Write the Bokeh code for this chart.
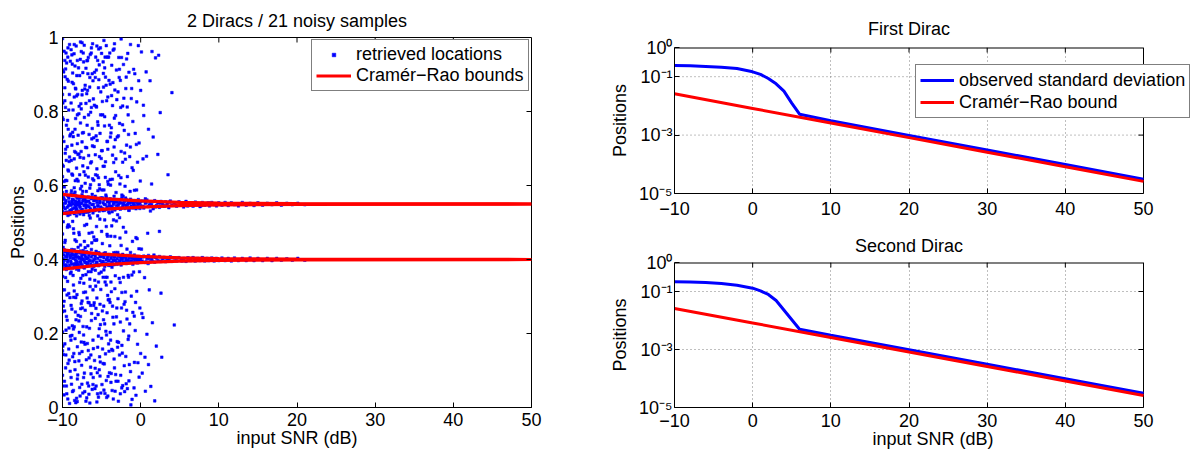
from bokeh.plotting import figure
from bokeh.models import Range1d, FixedTicker, Legend, LegendItem
from bokeh.layouts import row, column
from bokeh.embed import file_html
from bokeh.resources import INLINE

FONT = "Liberation Sans"
BLUE = "#0000FF"
RED = "#FF0000"

# ---------------- tick labels ----------------
snr_ticks = [-10, 0, 10, 20, 30, 40, 50]
snr_tick_labels = ["−10", "0", "10", "20", "30", "40", "50"]
pos_ticks = [0, 0.2, 0.4, 0.6, 0.8, 1]
pos_tick_labels = ["0", "0.2", "0.4", "0.6", "0.8", "1"]
log_ticks = [1e-5, 1e-3, 1e-1, 1]
log_tick_labels = ["10⁻⁵", "10⁻³", "10⁻¹", "10⁰"]

# ---------------- left panel: retrieved locations (SNR dB, position) ----------------
noise_band_m10 = [(-10,.912),(-10,.731),(-10,.655),(-10,.318),(-10,.204),(-10,.087),(-10,.469),(-10,.846),
    (-10,.581),(-10,.259),(-10,.997),(-10,.392),(-9.9,.143),(-9.9,.778),(-9.9,.502),(-9.8,.963),(-9.8,.611),
    (-9.8,.287),(-9.8,.034),(-9.7,.829),(-9.7,.446),(-9.7,.172),(-9.6,.698),(-9.6,.351),(-9.6,.915),(-9.5,.058),
    (-9.5,.524),(-9.5,.763),(-9.4,.236),(-9.4,.887),(-9.4,.417),(-9.3,.642),(-9.3,.119),(-9.3,.972),(-9.2,.308),
    (-9.2,.571),(-9.2,.804),(-9.1,.011),(-9.1,.489),(-9.1,.677),(-9.0,.193),(-9.0,.936),(-9.0,.362),(-9.6,.614),
    (-9.4,.705),(-9.2,.158),(-9.9,.274),(-9.7,.938),(-9.5,.382),(-9.3,.491),
    (-9.95,.823),(-9.95,.166),(-9.85,.542),(-9.85,.907),(-9.75,.318),(-9.75,.071),(-9.65,.687),(-9.65,.452),
    (-9.55,.209),(-9.55,.958),(-9.45,.613),(-9.45,.037),(-9.35,.776),(-9.35,.341),(-9.25,.494),(-9.25,.882),
    (-9.15,.128),(-9.15,.665),(-9.05,.297),(-9.05,.734),(-10,.624),(-10,.153),(-10,.783),(-9.9,.401),(-9.7,.864),
    (-9.5,.246),(-9.3,.572),(-9.1,.981),(-9.9,.652),(-9.6,.107),
    (-9.92,.433),(-9.87,.058),(-9.82,.719),(-9.77,.596),(-9.72,.261),(-9.67,.894),(-9.62,.377),(-9.57,.142),
    (-9.52,.668),(-9.47,.931),(-9.42,.304),(-9.37,.487),(-9.32,.023),(-9.27,.752),(-9.22,.639),(-9.17,.215),
    (-9.12,.846),(-9.07,.531),(-9.02,.098),(-9.97,.354),(-9.62,.811),(-9.32,.947)]
noise_band_m9 = [(-8.9,.547),(-8.9,.081),(-8.9,.823),(-8.8,.266),(-8.8,.709),(-8.8,.953),(-8.7,.412),(-8.7,.137),
    (-8.7,.628),(-8.6,.875),(-8.6,.331),(-8.6,.046),(-8.5,.594),(-8.5,.218),(-8.5,.981),(-8.4,.453),(-8.4,.752),
    (-8.4,.102),(-8.3,.689),(-8.3,.297),(-8.3,.861),(-8.2,.025),(-8.2,.518),(-8.2,.374),(-8.1,.791),(-8.1,.164),
    (-8.1,.938),(-8.0,.433),(-8.0,.612),(-8.0,.249),(-8.9,.366),(-8.7,.904),(-8.5,.672),(-8.3,.551),(-8.1,.077),
    (-8.6,.483),(-8.4,.923),(-8.2,.842),(-8.8,.195),(-8.0,.736),(-8.5,.315),(-8.3,.013),(-8.7,.744),(-8.1,.386),
    (-8.9,.967),(-8.6,.212),(-8.2,.647),(-8.4,.582),
    (-8.95,.412),(-8.95,.739),(-8.85,.063),(-8.85,.586),(-8.75,.928),(-8.75,.221),(-8.65,.357),(-8.65,.804),
    (-8.55,.146),(-8.55,.471),(-8.45,.692),(-8.45,.019),(-8.35,.863),(-8.35,.258),(-8.25,.534),(-8.25,.977),
    (-8.15,.305),(-8.15,.617),(-8.05,.088),(-8.05,.846),(-8.9,.276),(-8.7,.503),(-8.5,.839),(-8.3,.407),
    (-8.1,.713),(-8.8,.631),(-8.4,.186),
    (-8.92,.182),(-8.87,.668),(-8.82,.427),(-8.77,.879),(-8.72,.043),(-8.67,.561),(-8.62,.732),(-8.57,.298),
    (-8.52,.956),(-8.47,.387),(-8.42,.124),(-8.37,.613),(-8.32,.781),(-8.27,.237),(-8.22,.449),(-8.17,.897),
    (-8.12,.016),(-8.07,.528),(-8.02,.684)]
noise_band_m8 = [(-7.9,.126),(-7.9,.685),(-7.9,.473),(-7.8,.897),(-7.8,.338),(-7.8,.054),(-7.7,.769),(-7.7,.246),
    (-7.7,.591),(-7.6,.962),(-7.6,.402),(-7.6,.177),(-7.5,.718),(-7.5,.288),(-7.5,.845),(-7.4,.039),(-7.4,.527),
    (-7.4,.653),(-7.3,.311),(-7.3,.934),(-7.3,.196),(-7.2,.784),(-7.2,.449),(-7.2,.093),(-7.1,.606),(-7.1,.871),
    (-7.1,.263),(-7.0,.359),(-7.0,.017),(-7.0,.822),(-7.8,.629),(-7.6,.281),(-7.4,.905),(-7.2,.377),(-7.0,.548),
    (-7.7,.988),(-7.5,.151),(-7.3,.674),(-7.1,.432),(-7.9,.234),(-7.6,.807),(-7.4,.357),(-7.2,.561),(-7.0,.917),
    (-7.95,.552),(-7.95,.918),(-7.85,.203),(-7.85,.467),(-7.75,.031),(-7.75,.676),(-7.65,.821),(-7.65,.349),
    (-7.55,.598),(-7.55,.114),(-7.45,.742),(-7.45,.269),(-7.35,.958),(-7.35,.424),(-7.25,.176),(-7.25,.637),
    (-7.15,.861),(-7.15,.043),(-7.05,.312),(-7.05,.703),(-7.9,.794),(-7.7,.439),(-7.5,.986),(-7.3,.081),(-7.1,.528),
    (-7.92,.371),(-7.87,.814),(-7.82,.146),(-7.77,.523),(-7.72,.941),(-7.67,.267),(-7.62,.692),(-7.57,.418),
    (-7.52,.063),(-7.47,.857),(-7.42,.584),(-7.37,.219),(-7.32,.743),(-7.27,.336),(-7.22,.979),(-7.17,.492),
    (-7.12,.171),(-7.07,.628)]
noise_band_m7 = [(-6.9,.702),(-6.9,.218),(-6.9,.495),(-6.8,.066),(-6.8,.857),(-6.8,.391),(-6.7,.623),(-6.7,.154),
    (-6.7,.946),(-6.6,.283),(-6.6,.738),(-6.6,.529),(-6.5,.012),(-6.5,.892),(-6.5,.347),(-6.4,.661),(-6.4,.109),
    (-6.4,.798),(-6.3,.427),(-6.3,.972),(-6.3,.235),(-6.2,.576),(-6.2,.049),(-6.2,.754),(-6.1,.318),(-6.1,.883),
    (-6.1,.182),(-6.0,.614),(-6.0,.461),(-6.0,.276),(-6.9,.848),(-6.7,.367),(-6.5,.593),(-6.3,.811),(-6.1,.062),
    (-6.8,.938),(-6.6,.134),(-6.4,.276),(-6.2,.902),(-6.0,.729),
    (-6.95,.129),(-6.95,.584),(-6.85,.763),(-6.85,.296),(-6.75,.437),(-6.75,.902),(-6.65,.058),(-6.65,.681),
    (-6.55,.829),(-6.55,.214),(-6.45,.512),(-6.45,.954),(-6.35,.367),(-6.35,.091),(-6.25,.726),(-6.25,.445),
    (-6.15,.618),(-6.15,.983),(-6.05,.159),(-6.05,.834),(-6.9,.026),(-6.6,.471),(-6.3,.664),(-6.0,.381),
    (-6.92,.402),(-6.87,.937),(-6.82,.173),(-6.77,.648),(-6.72,.284),(-6.67,.791),(-6.62,.036),(-6.57,.519),
    (-6.52,.866),(-6.47,.327),(-6.42,.602),(-6.37,.142),(-6.32,.958),(-6.27,.254),(-6.22,.473),(-6.17,.707),
    (-6.12,.395),(-6.07,.081)]
noise_band_m6 = [(-5.9,.538),(-5.9,.127),(-5.9,.906),(-5.8,.371),(-5.8,.683),(-5.8,.241),(-5.7,.814),(-5.7,.058),
    (-5.7,.452),(-5.6,.977),(-5.6,.296),(-5.6,.645),(-5.5,.163),(-5.5,.772),(-5.5,.518),(-5.4,.028),(-5.4,.864),
    (-5.4,.339),(-5.3,.602),(-5.3,.213),(-5.3,.926),(-5.2,.408),(-5.2,.741),(-5.2,.085),(-5.1,.566),(-5.1,.319),
    (-5.1,.853),(-5.0,.187),(-5.0,.694),(-5.0,.476),(-5.8,.892),(-5.6,.015),(-5.4,.621),(-5.2,.279),(-5.0,.957),
    (-5.7,.734),(-5.3,.102),
    (-5.95,.705),(-5.95,.283),(-5.85,.051),(-5.85,.561),(-5.75,.947),(-5.75,.328),(-5.65,.489),(-5.65,.812),
    (-5.55,.094),(-5.55,.627),(-5.45,.251),(-5.45,.763),(-5.35,.418),(-5.35,.886),(-5.25,.137),(-5.25,.591),
    (-5.15,.972),(-5.15,.224),(-5.05,.673),(-5.05,.366),(-5.9,.452),(-5.5,.938),(-5.1,.039),
    (-5.92,.817),(-5.87,.344),(-5.82,.106),(-5.77,.629),(-5.72,.268),(-5.67,.912),(-5.62,.453),(-5.57,.722),
    (-5.52,.037),(-5.47,.586),(-5.42,.193),(-5.37,.969),(-5.32,.362),(-5.27,.678),(-5.22,.509),(-5.17,.123),
    (-5.12,.791)]
noise_band_m5 = [(-4.9,.261),(-4.9,.827),(-4.9,.443),(-4.8,.119),(-4.8,.652),(-4.8,.934),(-4.7,.372),(-4.7,.588),
    (-4.7,.047),(-4.6,.786),(-4.6,.226),(-4.6,.507),(-4.5,.893),(-4.5,.145),(-4.5,.664),(-4.4,.331),(-4.4,.978),
    (-4.4,.073),(-4.3,.719),(-4.3,.468),(-4.3,.256),(-4.2,.839),(-4.2,.031),(-4.2,.611),(-4.1,.384),(-4.1,.947),
    (-4.1,.172),(-4.0,.526),(-4.0,.763),(-4.0,.292),(-4.8,.352),(-4.6,.918),(-4.4,.489),(-4.2,.698),(-4.0,.094),
    (-4.95,.588),(-4.95,.062),(-4.85,.791),(-4.85,.414),(-4.75,.237),(-4.75,.866),(-4.65,.652),(-4.65,.118),
    (-4.55,.339),(-4.55,.947),(-4.45,.574),(-4.45,.206),(-4.35,.829),(-4.35,.027),(-4.25,.463),(-4.25,.719),
    (-4.15,.291),(-4.15,.603),(-4.05,.884),(-4.05,.152),(-4.7,.992),(-4.3,.352),
    (-4.92,.694),(-4.87,.158),(-4.82,.532),(-4.77,.903),(-4.72,.274),(-4.67,.417),(-4.62,.761),(-4.57,.038),
    (-4.52,.622),(-4.47,.352),(-4.42,.871),(-4.37,.196),(-4.32,.563),(-4.27,.947),(-4.22,.303),(-4.17,.084)]
noise_band_m4 = [(-3.9,.616),(-3.9,.203),(-3.9,.874),(-3.8,.339),(-3.8,.742),(-3.8,.068),(-3.7,.491),(-3.7,.925),
    (-3.7,.157),(-3.6,.682),(-3.6,.274),(-3.6,.816),(-3.5,.023),(-3.5,.559),(-3.5,.397),(-3.4,.969),(-3.4,.131),
    (-3.4,.704),(-3.3,.321),(-3.3,.858),(-3.3,.462),(-3.2,.089),(-3.2,.637),(-3.2,.789),(-3.1,.245),(-3.1,.912),
    (-3.1,.504),(-3.0,.178),(-3.0,.731),(-3.0,.416),
    (-3.95,.437),(-3.95,.958),(-3.85,.182),(-3.85,.601),(-3.75,.756),(-3.75,.313),(-3.65,.046),(-3.65,.529),
    (-3.55,.878),(-3.55,.244),(-3.45,.418),(-3.45,.662),(-3.35,.107),(-3.35,.983),(-3.25,.356),(-3.25,.724),
    (-3.15,.581),(-3.15,.071),(-3.05,.832),(-3.05,.269),
    (-3.92,.284),(-3.87,.731),(-3.82,.463),(-3.77,.092),(-3.72,.843),(-3.67,.379),(-3.62,.617),(-3.57,.154),
    (-3.52,.966),(-3.47,.507),(-3.42,.226),(-3.37,.782),(-3.27,.044),(-3.17,.672)]
noise_band_m3 = [(-2.9,.853),(-2.9,.294),(-2.9,.071),(-2.8,.627),(-2.8,.389),(-2.8,.946),(-2.7,.142),(-2.7,.768),
    (-2.7,.513),(-2.6,.231),(-2.6,.884),(-2.6,.037),(-2.5,.692),(-2.5,.438),(-2.5,.996),(-2.4,.168),(-2.4,.574),
    (-2.4,.311),(-2.3,.815),(-2.3,.059),(-2.3,.663),(-2.2,.352),(-2.2,.927),(-2.2,.207),(-2.1,.749),(-2.1,.113),
    (-2.0,.286),(-2.0,.598),
    (-2.95,.521),(-2.95,.163),(-2.85,.734),(-2.85,.017),(-2.75,.349),(-2.75,.892),(-2.65,.604),(-2.65,.458),
    (-2.55,.087),(-2.55,.811),(-2.45,.269),(-2.45,.946),(-2.35,.402),(-2.35,.147),(-2.25,.571),(-2.15,.836),
    (-2.05,.043),(-2.05,.688),
    (-2.92,.419),(-2.82,.176),(-2.72,.914),(-2.62,.338),(-2.52,.621),(-2.42,.053),(-2.32,.764),(-2.22,.487),
    (-2.12,.279)]
noise_band_m2 = [(-1.9,.474),(-1.9,.862),(-1.9,.138),(-1.8,.709),(-1.8,.263),(-1.8,.942),(-1.7,.051),(-1.7,.624),
    (-1.6,.357),(-1.6,.791),(-1.6,.184),(-1.5,.533),(-1.5,.906),(-1.4,.226),(-1.4,.678),(-1.3,.097),(-1.3,.419),
    (-1.2,.835),(-1.2,.301),(-1.1,.648),(-1.1,.022),(-1.0,.257),(-1.0,.773),(-1.5,.072),(-1.3,.981),
    (-1.95,.312),(-1.95,.671),(-1.85,.064),(-1.85,.893),(-1.75,.428),(-1.75,.239),(-1.65,.957),(-1.55,.352),
    (-1.55,.738),(-1.45,.116),(-1.35,.584),(-1.25,.007),(-1.15,.862),(-1.05,.449),
    (-1.92,.566),(-1.72,.812),(-1.52,.193),(-1.32,.704),(-1.12,.358)]
noise_band_m1 = [(-0.9,.366),(-0.9,.914),(-0.8,.122),(-0.8,.587),(-0.7,.741),(-0.7,.208),(-0.6,.459),(-0.6,.033),
    (-0.5,.826),(-0.5,.314),(-0.4,.663),(-0.4,.171),(-0.3,.978),(-0.3,.402),(-0.2,.082),(-0.2,.715),(-0.1,.269),
    (-0.1,.538),(0.0,.857),(0.0,.146),
    (-0.95,.641),(-0.85,.053),(-0.75,.902),(-0.65,.284),(-0.55,.711),(-0.45,.456),(-0.35,.121),(-0.25,.883),
    (-0.15,.367),(-0.05,.612),(-0.82,.247),(-0.52,.588),(-0.22,.429)]
noise_band_0 = [(0.1,.428),(0.1,.961),(0.2,.093),(0.3,.672),(0.3,.243),(0.4,.789),(0.5,.351),(0.6,.044),
    (0.6,.564),(0.7,.907),(0.8,.198),(0.9,.471),(1.0,.752),(1.0,.116),
    (0.15,.254),(0.35,.817),(0.55,.136),(0.75,.679),(0.95,.389),(1.25,.531),(1.45,.962)]
noise_band_1 = [(1.1,.318),(1.2,.883),(1.3,.057),(1.4,.604),(1.5,.229),(1.6,.731),(1.7,.412),(1.9,.945),
    (2.0,.166),(1.8,.018)]
noise_band_2 = [(2.3,.952),(2.5,.797),(2.6,.309),(2.7,.136),(3.5,.629),(4.0,.851),(4.3,.223),(2.2,.684),(2.4,.476)]

cluster_first = [(-10,.548),(-10,.571),(-10,.531),(-9.8,.562),(-9.7,.526),(-9.6,.553),(-9.5,.584),(-9.4,.541),
    (-9.3,.519),(-9.2,.566),(-9.1,.549),(-9.0,.533),(-8.9,.578),(-8.8,.556),(-8.7,.538),(-8.6,.561),(-8.5,.524),
    (-8.4,.547),(-8.3,.572),(-8.2,.536),(-8.1,.555),(-8.0,.529),(-7.9,.567),(-7.8,.544),(-7.7,.551),(-7.6,.532),
    (-7.5,.575),(-7.4,.558),(-7.3,.521),(-7.2,.546),(-7.1,.563),(-7.0,.539),(-6.9,.557),(-6.8,.528),(-6.7,.569),
    (-6.6,.543),(-6.5,.552),(-6.4,.534),(-6.3,.564),(-6.2,.548),(-6.1,.526),(-6.0,.559),(-5.9,.541),(-5.8,.571),
    (-5.7,.535),(-5.6,.554),(-5.5,.546),(-5.4,.563),(-5.3,.531),(-5.2,.557),(-5.1,.542),(-5.0,.566),
    (-4.9,.538),(-4.8,.553),(-4.7,.561),(-4.6,.533),(-4.5,.548),(-4.4,.569),(-4.3,.541),(-4.2,.556),(-4.1,.529),
    (-4.0,.552),(-3.9,.564),(-3.8,.544),(-3.7,.537),(-3.6,.558),(-3.5,.549),(-3.4,.571),(-3.3,.534),(-3.2,.555),
    (-3.1,.546),(-3.0,.562),(-2.9,.539),(-2.8,.551),(-2.7,.558),(-2.6,.536),(-2.5,.553),(-2.4,.566),(-2.3,.543),
    (-2.2,.549),(-2.1,.559),(-2.0,.538),(-1.9,.547),(-1.8,.561),(-1.7,.541),(-1.6,.555),(-1.5,.533),(-1.4,.552),
    (-1.3,.563),(-1.2,.544),(-1.1,.557),(-1.0,.539),(-0.9,.551),(-0.8,.546),(-0.7,.559),(-0.6,.537),(-0.5,.554),
    (-0.4,.548),(-0.3,.562),(-0.2,.541),(-0.1,.553),(0.0,.545),
    (0.2,.558),(0.4,.539),(0.6,.552),(0.8,.561),(1.0,.543),(1.2,.555),(1.4,.548),(1.6,.537),(1.8,.559),(2.0,.546),
    (2.2,.553),(2.4,.541),(2.6,.557),(2.8,.549),(3.0,.544),(3.2,.556),(3.4,.551),(3.6,.540),(3.8,.558),(4.0,.547),
    (4.3,.553),(4.6,.544),(4.9,.556),(5.2,.549),(5.5,.542),(5.8,.557),(6.1,.546),(6.4,.553),(6.7,.544),(7.0,.555),
    (7.3,.548),(7.6,.543),(7.9,.554),(8.2,.547),(8.5,.552),(8.8,.545),(9.1,.554),(9.4,.548),(9.7,.545),(10.0,.553),
    (10.4,.547),(10.8,.554),(11.2,.546),(11.6,.553),(12.0,.548),(12.5,.545),(13.0,.554),(13.5,.547),(14.0,.552),
    (14.5,.546),(15.0,.553),(15.6,.547),(16.2,.552),(16.8,.548),(17.4,.553),(18.0,.547),(18.7,.552),(19.4,.548),
    (20.1,.552),(21.0,.548),
    (-9.95,.541),(-9.85,.567),(-9.75,.552),(-9.65,.537),(-9.55,.559),(-9.45,.528),(-9.35,.573),(-9.25,.545),
    (-9.15,.556),(-9.05,.522),(-8.95,.548),(-8.85,.534),(-8.75,.563),(-8.65,.551),(-8.55,.577),(-8.45,.539),
    (-8.35,.557),(-8.25,.543),(-8.15,.566),(-8.05,.548),(-7.95,.531),(-7.85,.559),(-7.75,.541),(-7.65,.568),
    (-7.55,.552),(-7.45,.536),(-7.35,.562),(-7.25,.547),(-7.15,.529),(-7.05,.556),(-6.85,.545),(-6.65,.558),
    (-6.45,.537),(-6.25,.567),(-6.05,.549),(-5.85,.532),(-5.65,.561),(-5.45,.544),(-5.25,.553),(-5.05,.538),
    (-4.85,.566),(-4.65,.549),(-4.45,.536),(-4.25,.557),(-4.05,.545),(-3.85,.559),(-3.65,.541),(-3.45,.553),
    (-3.25,.538),(-3.05,.556),(-2.85,.547),(-2.65,.562),(-2.45,.539),(-2.25,.551),(-2.05,.557),(-1.85,.543),
    (-1.65,.549),(-1.45,.558),(-1.25,.541),(-1.05,.553),(-0.85,.545),(-0.65,.556),(-0.45,.542),(-0.25,.551),
    (-0.05,.557),(0.3,.544),(0.7,.554),(1.1,.547),(1.5,.556),(1.9,.542),(2.5,.552),(3.1,.545),(3.7,.555),
    (4.5,.547),(5.3,.553),(6.0,.545),(6.9,.553),(7.8,.546),(8.7,.553)]
cluster_second = [(-10,.402),(-10,.381),(-10,.419),(-9.9,.394),(-9.8,.427),(-9.7,.386),(-9.6,.408),(-9.5,.373),
    (-9.4,.412),(-9.3,.398),(-9.2,.421),(-9.1,.384),(-9.0,.405),(-8.9,.391),(-8.8,.416),(-8.7,.377),(-8.6,.403),
    (-8.5,.426),(-8.4,.389),(-8.3,.409),(-8.2,.396),(-8.1,.418),(-8.0,.382),(-7.9,.406),(-7.8,.393),(-7.7,.423),
    (-7.6,.387),(-7.5,.401),(-7.4,.414),(-7.3,.379),(-7.2,.397),(-7.1,.411),(-7.0,.392),(-6.9,.421),(-6.8,.385),
    (-6.7,.404),(-6.6,.396),(-6.5,.417),(-6.4,.388),(-6.3,.407),(-6.2,.374),(-6.1,.413),(-6.0,.399),(-5.9,.386),
    (-5.8,.409),(-5.7,.422),(-5.6,.391),(-5.5,.403),(-5.4,.383),(-5.3,.415),(-5.2,.397),(-5.1,.408),(-5.0,.389),
    (-4.9,.412),(-4.8,.394),(-4.7,.405),(-4.6,.381),(-4.5,.418),(-4.4,.399),(-4.3,.387),(-4.2,.409),(-4.1,.396),
    (-4.0,.414),(-3.9,.384),(-3.8,.403),(-3.7,.392),(-3.6,.411),(-3.5,.398),(-3.4,.386),(-3.3,.407),(-3.2,.419),
    (-3.1,.393),(-3.0,.402),(-2.9,.389),(-2.8,.412),(-2.7,.397),(-2.6,.406),(-2.5,.385),(-2.4,.401),(-2.3,.414),
    (-2.2,.394),(-2.1,.408),(-2.0,.391),(-1.9,.403),(-1.8,.389),(-1.7,.411),(-1.6,.398),(-1.5,.405),(-1.4,.392),
    (-1.3,.409),(-1.2,.396),(-1.1,.404),(-1.0,.387),(-0.9,.401),(-0.8,.412),(-0.7,.394),(-0.6,.406),(-0.5,.397),
    (-0.4,.391),(-0.3,.408),(-0.2,.399),(-0.1,.393),(0.0,.405),
    (0.2,.396),(0.4,.409),(0.6,.392),(0.8,.403),(1.0,.411),(1.2,.394),(1.4,.401),(1.6,.407),(1.8,.393),(2.0,.404),
    (2.2,.397),(2.4,.408),(2.6,.395),(2.8,.402),(3.0,.406),(3.2,.394),(3.4,.403),(3.6,.397),(3.8,.407),(4.0,.395),
    (4.3,.404),(4.6,.396),(4.9,.405),(5.2,.397),(5.5,.403),(5.8,.395),(6.1,.404),(6.4,.397),(6.7,.405),(7.0,.396),
    (7.3,.403),(7.6,.397),(7.9,.405),(8.2,.396),(8.5,.403),(8.8,.398),(9.1,.404),(9.4,.396),(9.7,.403),(10.0,.397),
    (10.4,.404),(10.8,.397),(11.2,.403),(11.6,.396),(12.0,.404),(12.5,.397),(13.0,.403),(13.5,.397),(14.0,.404),
    (14.5,.397),(15.0,.403),(15.6,.397),(16.2,.403),(16.8,.397),(17.4,.403),(18.0,.398),(18.7,.402),(19.4,.398),
    (20.1,.403),(21.0,.398),
    (-9.95,.389),(-9.85,.412),(-9.75,.398),(-9.65,.421),(-9.55,.384),(-9.45,.406),(-9.35,.393),(-9.25,.417),
    (-9.15,.378),(-9.05,.409),(-8.95,.396),(-8.85,.422),(-8.75,.387),(-8.65,.404),(-8.55,.413),(-8.45,.381),
    (-8.35,.399),(-8.25,.416),(-8.15,.391),(-8.05,.407),(-7.95,.385),(-7.85,.403),(-7.75,.418),(-7.65,.394),
    (-7.55,.409),(-7.45,.383),(-7.35,.401),(-7.25,.415),(-7.15,.392),(-7.05,.406),(-6.85,.388),(-6.65,.411),
    (-6.45,.397),(-6.25,.384),(-6.05,.414),(-5.85,.402),(-5.65,.393),(-5.45,.417),(-5.25,.386),(-5.05,.408),
    (-4.85,.395),(-4.65,.412),(-4.45,.389),(-4.25,.404),(-4.05,.397),(-3.85,.411),(-3.65,.391),(-3.45,.406),
    (-3.25,.398),(-3.05,.387),(-2.85,.409),(-2.65,.395),(-2.45,.404),(-2.25,.392),(-2.05,.407),(-1.85,.398),
    (-1.65,.391),(-1.45,.405),(-1.25,.396),(-1.05,.408),(-0.85,.393),(-0.65,.402),(-0.45,.406),(-0.25,.395),
    (-0.05,.401),(0.3,.407),(0.7,.394),(1.1,.403),(1.5,.396),(1.9,.406),(2.5,.395),(3.1,.404),(3.7,.396),
    (4.5,.404),(5.3,.396),(6.0,.404),(6.9,.397),(7.8,.403),(8.7,.397)]

# Cramér-Rao bounds around the two true positions (left panel)
bound_snr = [-10, -5, 0, 5, 10, 20, 50]
bound_first_upper = [0.576, 0.5646, 0.5582, 0.5546, 0.5526, 0.5508, 0.55]
bound_first_lower = [0.524, 0.5354, 0.5418, 0.5454, 0.5474, 0.5492, 0.55]
bound_second_upper = [0.426, 0.4146, 0.4082, 0.4046, 0.4026, 0.4008, 0.40]
bound_second_lower = [0.374, 0.3854, 0.3918, 0.3954, 0.3974, 0.3992, 0.40]

# ---------------- right panels ----------------
std_first_snr = [-10, -8, -6, -4, -2, 0, 1, 2, 3, 4, 5, 6, 10, 20, 30, 40, 50]
std_first = [0.24, 0.235, 0.225, 0.21, 0.19, 0.147, 0.12, 0.087, 0.057, 0.032, 0.0125, 0.0052,
             0.0031, 0.00098, 0.00031, 0.000098, 0.000031]
std_second_snr = [-10, -8, -6, -4, -2, 0, 1, 2, 3, 6, 10, 20, 30, 40, 50]
std_second = [0.215, 0.212, 0.205, 0.19, 0.165, 0.13, 0.105, 0.079, 0.049, 0.005,
              0.0031, 0.00098, 0.00031, 0.000098, 0.000031]
crb_snr = [-10, 0, 10, 20, 30, 40, 50]
crb_std = [0.026, 0.0082, 0.0026, 0.00082, 0.00026, 0.000082, 0.000026]

# ---------------- layout constants (pixels) ----------------
LEFT_W = 604
FRAME_PX = 469          # width of every box for the 60 dB span
EXTEND_PX = 48          # right frames run past the box so the legend can overhang it
RIGHT_BORDER_L = 674 - LEFT_W
RIGHT_BORDER_R = 1199 - 1143 - EXTEND_PX
TICK_PX = 5


def unpack(*bands):
    xs, ys = [], []
    for band in bands:
        for x, y in band:
            xs.append(x)
            ys.append(y)
    return xs, ys


def style_axis(ax, ticks, labels, standoff):
    ax.ticker = FixedTicker(ticks=ticks)
    ax.major_label_overrides = dict(zip(ticks, labels))
    ax.major_tick_in = TICK_PX
    ax.major_tick_out = 0
    ax.minor_tick_in = 0
    ax.minor_tick_out = 0
    ax.axis_line_color = "black"
    ax.major_tick_line_color = "black"
    ax.major_label_text_font = FONT
    ax.major_label_text_color = "black"
    ax.major_label_standoff = standoff
    ax.major_label_text_font_size = "18px"
    ax.axis_label_text_font = FONT
    ax.axis_label_text_font_size = "18px"
    ax.axis_label_text_font_style = "normal"
    ax.axis_label_text_color = "black"


def style_title(p, standoff):
    p.title.text_font = FONT
    p.title.text_font_size = "18px"
    p.title.text_font_style = "normal"
    p.title.text_color = "black"
    p.title.align = "center"
    p.title.standoff = standoff


def make_legend(items, loc, glyph_w, glyph_h, row_h, pad):
    return Legend(items=items, location=loc, border_line_color="black", border_line_width=1,
                  background_fill_color="white", background_fill_alpha=1.0,
                  label_text_font=FONT, label_text_font_size="18px", label_text_color="black",
                  glyph_width=glyph_w, glyph_height=glyph_h, label_height=row_h,
                  label_standoff=5, padding=pad, spacing=0, margin=0)


def box_ticks(p, x_ticks, y_ticks, x_right, y_top, x_in, y_in):
    """MATLAB-style inward ticks on the top and right edges of the box."""
    n = len(x_ticks)
    p.segment(x0=x_ticks, x1=x_ticks, y0=[y_top] * n, y1=[y_in] * n,
              line_color="black", line_width=1)
    m = len(y_ticks)
    p.segment(x0=[x_right] * m, x1=[x_in] * m, y0=y_ticks, y1=y_ticks,
              line_color="black", line_width=1)


# ---------------- left figure ----------------
p1 = figure(frame_width=FRAME_PX, frame_height=370, x_range=Range1d(-10, 50), y_range=Range1d(0, 1),
            output_backend="svg", toolbar_location=None, title="2 Diracs / 21 noisy samples",
            min_border_left=62, min_border_right=LEFT_W - 531, min_border_top=37,
            min_border_bottom=45)
p1.outline_line_color = "black"
p1.grid.visible = False
style_title(p1, 13)
style_axis(p1.xaxis[0], snr_ticks, snr_tick_labels, standoff=5)
style_axis(p1.yaxis[0], pos_ticks, pos_tick_labels, standoff=4)
p1.xaxis[0].axis_label = "input SNR (dB)"
p1.xaxis[0].axis_label_standoff = -1
p1.yaxis[0].axis_label = "Positions"
p1.yaxis[0].axis_label_standoff = 2

nx, ny = unpack(noise_band_m10, noise_band_m9, noise_band_m8, noise_band_m7, noise_band_m6,
                noise_band_m5, noise_band_m4, noise_band_m3, noise_band_m2, noise_band_m1,
                noise_band_0, noise_band_1, noise_band_2, cluster_first, cluster_second)
dots = p1.scatter(x=nx, y=ny, marker="square", size=2.6, fill_color=BLUE, line_color=BLUE,
                  line_width=0.5)
b_lines = []
for ys in (bound_first_upper, bound_first_lower, bound_second_upper, bound_second_lower):
    b_lines.append(p1.line(x=bound_snr, y=ys, line_color=RED, line_width=3.2))
box_ticks(p1, snr_ticks[1:-1], pos_ticks[1:-1], 50, 1, 50 - TICK_PX * 60 / FRAME_PX, 1 - TICK_PX / 370)

leg1 = make_legend([LegendItem(label="retrieved locations", renderers=[dots]),
                    LegendItem(label="Cramér−Rao bounds", renderers=[b_lines[0]])],
                   loc=(249, 316), glyph_w=35, glyph_h=9, row_h=20, pad=4)
p1.add_layout(leg1)


# ---------------- right figures ----------------
def make_log_fig(title, title_px, std_snr, std_vals, frame_h, b_top, b_bottom, t_standoff,
                 x_label_standoff, xlabel, legend_loc):
    x_end = 50 + EXTEND_PX * 60 / FRAME_PX
    p = figure(frame_width=FRAME_PX + EXTEND_PX, frame_height=frame_h,
               x_range=Range1d(-10, x_end), y_range=Range1d(1e-5, 1),
               y_axis_type="log", output_backend="svg", toolbar_location=None, title=title,
               min_border_left=RIGHT_BORDER_L, min_border_right=RIGHT_BORDER_R,
               min_border_top=b_top, min_border_bottom=b_bottom)
    p.outline_line_color = None
    style_title(p, t_standoff)
    p.title.align = "left"
    p.title.offset = FRAME_PX / 2 - title_px / 2
    style_axis(p.xaxis[0], snr_ticks, snr_tick_labels, standoff=x_label_standoff)
    style_axis(p.yaxis[0], log_ticks, log_tick_labels, standoff=2)
    p.xaxis[0].bounds = (-10, 50)
    p.yaxis[0].axis_label = "Positions"
    p.yaxis[0].axis_label_standoff = 6
    if xlabel:
        p.xaxis[0].axis_label = xlabel
        p.xaxis[0].axis_label_standoff = -1
    p.xgrid.ticker = FixedTicker(ticks=snr_ticks)
    p.xgrid[0].grid_line_color = "#7f7f7f"
    p.xgrid[0].grid_line_dash = "1 3"
    p.xgrid[0].grid_line_width = 1
    p.ygrid.visible = False
    gy = log_ticks[1:-1]
    p.segment(x0=[-10] * len(gy), x1=[50] * len(gy), y0=gy, y1=gy,
              line_color="#7f7f7f", line_dash="1 3", line_width=1)
    # top and right edges of the box
    p.segment(x0=[-10], x1=[50], y0=[1], y1=[1], line_color="black", line_width=2)
    p.segment(x0=[50], x1=[50], y0=[1e-5], y1=[1], line_color="black", line_width=1)
    r_std = p.line(x=std_snr, y=std_vals, line_color=BLUE, line_width=3)
    r_crb = p.line(x=crb_snr, y=crb_std, line_color=RED, line_width=3)
    box_ticks(p, snr_ticks[1:-1], gy, 50, 1, 50 - TICK_PX * 60 / FRAME_PX,
              10 ** (-TICK_PX / 29.2))
    if legend_loc is not None:
        leg = make_legend([LegendItem(label="observed standard deviation", renderers=[r_std]),
                           LegendItem(label="Cramér−Rao bound", renderers=[r_crb])],
                          loc=legend_loc, glyph_w=34, glyph_h=22, row_h=22, pad=4)
        p.add_layout(leg)
    return p


p2 = make_log_fig("First Dirac", 82, std_first_snr, std_first, 146, 47, 34, 18, 8, None, (241, 75))
p3 = make_log_fig("Second Dirac", 108, std_second_snr, std_second, 145, 35, 45, 13, 6,
                  "input SNR (dB)", None)

layout = row(p1, column(p2, p3))
open("out.html", "w").write(file_html(layout, INLINE))
